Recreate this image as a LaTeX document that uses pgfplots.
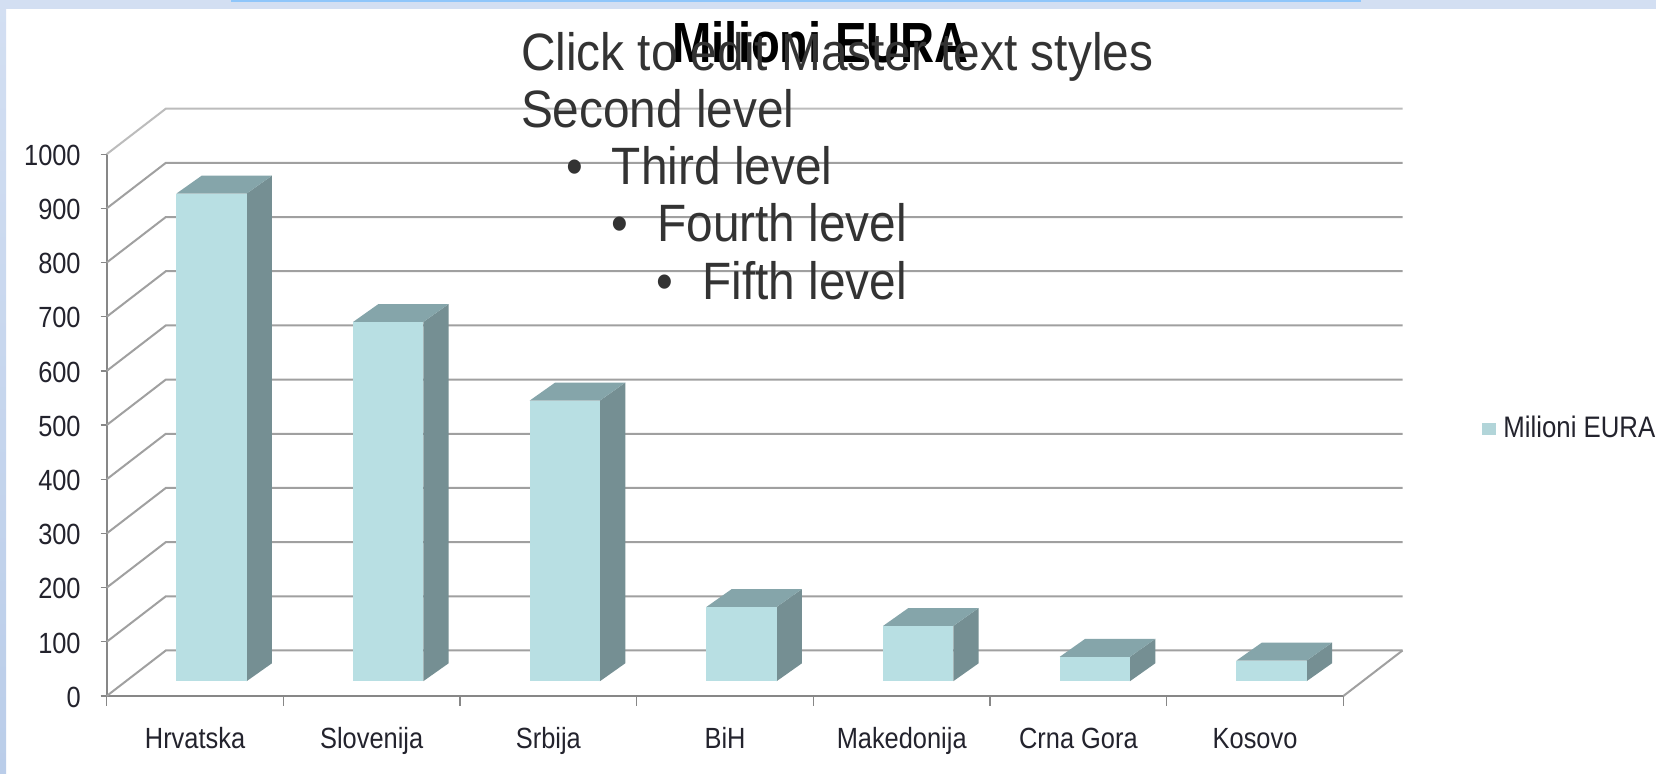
\documentclass[border=0pt]{standalone}
\usepackage{fontspec}
\setmainfont{Liberation Sans}
\usepackage{pgfplots}
\pgfplotsset{compat=1.18}
\definecolor{front}{RGB}{184,223,227}
\definecolor{topc}{RGB}{133,165,170}
\definecolor{sidec}{RGB}{117,143,147}
\definecolor{gridc}{RGB}{160,160,160}
\definecolor{axisc}{RGB}{135,135,135}
\definecolor{txt}{RGB}{51,51,51}
\definecolor{lab}{RGB}{35,35,45}
\definecolor{bgtop}{RGB}{211,223,242}
\definecolor{bgbot}{RGB}{186,205,233}
\definecolor{brightb}{RGB}{143,198,250}
% depth of the wall, in axis units
\def\wdx{0.3347}\def\wdy{84}
\newcommand{\wallline}[2][gridc]{%
  \pgfmathsetmacro{\ya}{#2}\pgfmathsetmacro{\yb}{#2+\wdy}%
  \edef\temp{\noexpand\addplot[#1,line width=1pt,mark=none,forget plot] coordinates {(0,\ya) (\wdx,\yb) (7+\wdx,\yb)};}%
  \temp}
\newcommand{\threedbar}[2]{%
  \pgfmathsetmacro{\xa}{#1+0.3945}\pgfmathsetmacro{\xb}{\xa+0.3975}\pgfmathsetmacro{\xc}{\xb+0.1435}\pgfmathsetmacro{\xd}{\xa+0.1435}%
  \pgfmathsetmacro{\ya}{27.3}\pgfmathsetmacro{\yb}{27.3+#2}\pgfmathsetmacro{\yc}{\yb+33.1}\pgfmathsetmacro{\yd}{\ya+33.1}%
  \edef\temp{%
  \noexpand\addplot[fill=sidec,draw=none,mark=none,forget plot] coordinates {(\xb,\ya) (\xc,\yd) (\xc,\yc) (\xb,\yb)} --cycle;
  \noexpand\addplot[fill=topc,draw=none,mark=none,forget plot] coordinates {(\xa,\yb) (\xb,\yb) (\xc,\yc) (\xd,\yc)} --cycle;
  \noexpand\addplot[fill=front,draw=none,mark=none,forget plot] coordinates {(\xa,\ya) (\xb,\ya) (\xb,\yb) (\xa,\yb)} --cycle;}%
  \temp}
\begin{document}
\begin{tikzpicture}[x=0.5pt,y=0.5pt]
\fill[white] (0,0) rectangle (1656,774);
\shade[top color=bgtop,bottom color=bgbot] (0,0) rectangle (6,774);
\fill[bgtop] (0,765) rectangle (1656,774);
\fill[brightb] (231,772) rectangle (1361,774);
\begin{axis}[
  at={(53.35pt,39pt)},anchor=south west,
  scale only axis,width=618.35pt,height=270.9pt,
  xmin=0,xmax=7,ymin=0,ymax=1000,clip=false,
  axis x line*=bottom,axis y line*=left,
  axis line style={axisc,line width=1pt,-},
  tick align=outside,tick pos=left,
  major tick length=3pt,
  xtick={0,...,7},
  xtick style={axisc,line width=0.6pt,/pgfplots/major tick length=5pt},
  ytick style={axisc,line width=0.6pt},
  x tick label as interval,
  xticklabels={Hrvatska,Slovenija,Srbija,BiH,Makedonija,Crna Gora,Kosovo},
  ytick={0,100,...,1000},
  /pgf/number format/assume math mode=true,
  /pgf/number format/1000 sep={},
  tick label style={font=\fontsize{12.7}{15}\selectfont,text=lab,yscale=1.15,transform shape},
  y tick label style={xshift=-6.5pt,yshift=-0.5pt},
  x tick label style={yshift=-7.5pt,text height=9pt,text depth=3pt},
]
\wallline{0}\wallline{100}\wallline{200}\wallline{300}\wallline{400}
\wallline{500}\wallline{600}\wallline{700}\wallline{800}\wallline{900}
\wallline[gridc!70]{1000}
\addplot[gridc,line width=1pt,mark=none,forget plot] coordinates {(7,0) (7.3347,84)};
\threedbar{0}{900}
\threedbar{1}{663}
\threedbar{2}{518}
\threedbar{3}{137}
\threedbar{4}{102}
\threedbar{5}{45}
\threedbar{6}{38}
\end{axis}
% legend
\fill[front!90!gray] (1482,339) rectangle (1496,351);
\node[anchor=base west,inner sep=0pt,font=\fontsize{12.9}{15}\selectfont,text=lab,yscale=1.15,transform shape] at (1503,336) {Milioni EURA};
% title
\node[anchor=base,inner sep=0pt,font=\bfseries\fontsize{23.6}{26}\selectfont,text=black,yscale=1.2,transform shape] at (820.6,711.5) {Milioni EURA};
% master text
\begin{scope}[every node/.style={anchor=base west,inner sep=0pt,font=\fontsize{23.9}{26}\selectfont,text=txt,yscale=1.1,transform shape}]
\node at (520.6,703.5) {Click to edit Master text styles};
\node at (520.6,646.5) {Second level};
\node at (566,589.5) {•};\node at (611.5,589.5) {Third level};
\node at (611,532.5) {•};\node at (657,532.5) {Fourth level};
\node at (656,474.5) {•};\node at (702,474.5) {Fifth level};
\end{scope}
\end{tikzpicture}
\end{document}
